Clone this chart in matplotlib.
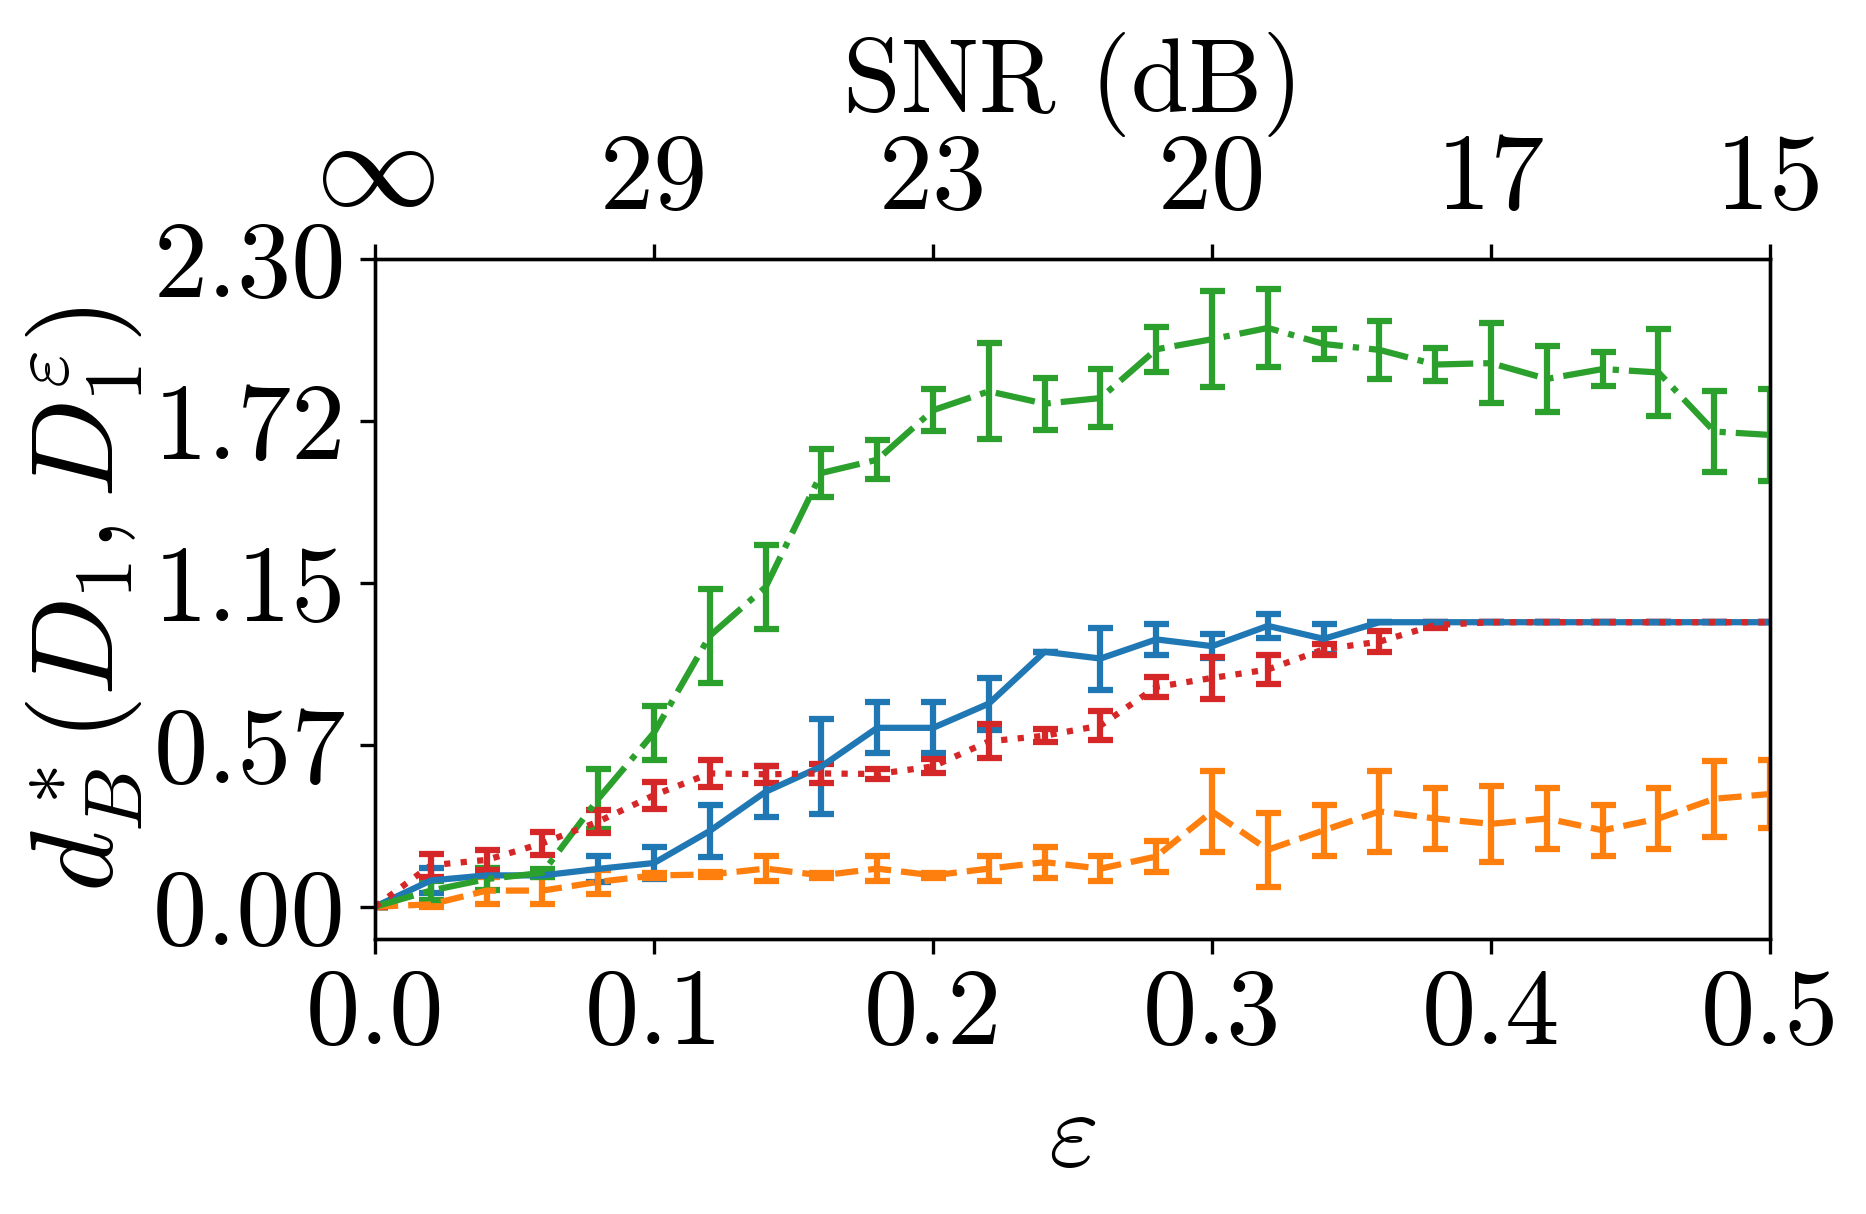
import numpy as np
import matplotlib
matplotlib.use("Agg")
import matplotlib.pyplot as plt

plt.rcParams['font.family'] = 'serif'
plt.rcParams['font.serif'] = ['cmr10', 'DejaVu Serif']
plt.rcParams['mathtext.fontset'] = 'cm'
plt.rcParams['axes.unicode_minus'] = False
plt.rcParams['axes.formatter.use_mathtext'] = True

eps = [0.00, 0.02, 0.04, 0.06, 0.08, 0.10, 0.12, 0.14, 0.16, 0.18, 0.20, 0.22, 0.24,
       0.26, 0.28, 0.30, 0.32, 0.34, 0.36, 0.38, 0.40, 0.42, 0.44, 0.46, 0.48, 0.50]

blue = [0, 0.093, 0.111, 0.111, 0.134, 0.155, 0.269, 0.408, 0.498, 0.635, 0.635, 0.721, 0.905,
        0.881, 0.949, 0.925, 0.997, 0.951, 1.01, 1.01, 1.01, 1.01, 1.01, 1.01, 1.01, 1.01]
blue_err = [0, 0.046, 0, 0, 0.045, 0.057, 0.091, 0.091, 0.17, 0.091, 0.091, 0.092, 0,
            0.11, 0.055, 0.043, 0.042, 0.053, 0, 0, 0, 0, 0, 0, 0, 0]

orange = [0, 0.008, 0.057, 0.057, 0.088, 0.111, 0.114, 0.135, 0.111, 0.135, 0.111, 0.135, 0.158,
          0.135, 0.178, 0.338, 0.202, 0.271, 0.338, 0.313, 0.294, 0.313, 0.271, 0.313, 0.383, 0.40]
orange_err = [0, 0.01, 0.049, 0.049, 0.043, 0.01, 0.01, 0.045, 0.01, 0.045, 0.01, 0.045, 0.055,
              0.045, 0.055, 0.144, 0.132, 0.091, 0.144, 0.11, 0.135, 0.11, 0.091, 0.11, 0.135, 0.12]

green = [0, 0.057, 0.098, 0.12, 0.383, 0.618, 0.962, 1.135, 1.54, 1.587, 1.763, 1.83, 1.786,
         1.806, 1.979, 2.015, 2.055, 1.998, 1.977, 1.925, 1.93, 1.874, 1.909, 1.897, 1.687, 1.675]
green_err = [0, 0.035, 0.04, 0.015, 0.106, 0.096, 0.167, 0.148, 0.086, 0.07, 0.075, 0.171, 0.092,
             0.104, 0.08, 0.17, 0.139, 0.055, 0.104, 0.059, 0.141, 0.116, 0.06, 0.155, 0.145, 0.163]

red = [0, 0.147, 0.166, 0.225, 0.302, 0.396, 0.473, 0.47, 0.473, 0.471, 0.498, 0.587, 0.607,
       0.643, 0.78, 0.812, 0.842, 0.914, 0.941, 1.0, 1.01, 1.01, 1.01, 1.01, 1.01, 1.01]
red_err = [0, 0.04, 0.035, 0.04, 0.04, 0.048, 0.049, 0.03, 0.033, 0.018, 0.025, 0.06, 0.024,
           0.05, 0.037, 0.073, 0.05, 0.02, 0.038, 0.01, 0, 0, 0, 0, 0, 0]

x_ticks = [0.0, 0.1, 0.2, 0.3, 0.4, 0.5]
x_ticklabels = ['0.0', '0.1', '0.2', '0.3', '0.4', '0.5']
snr_ticklabels = [r'$\infty$', '29', '23', '20', '17', '15']
y_ticks = [0.0, 0.575, 1.15, 1.725, 2.30]
y_ticklabels = ['0.00', '0.57', '1.15', '1.72', '2.30']

series = [
    (blue, blue_err, '#1f77b4', '-'),
    (orange, orange_err, '#ff7f0e', '--'),
    (green, green_err, '#2ca02c', '-.'),
    (red, red_err, '#d62728', ':'),
]

fig = plt.figure(figsize=(18.66 / 3, 12.14 / 3), dpi=300)
ax = fig.add_axes([0.2010, 0.2265, 0.9486 - 0.2010, 0.7867 - 0.2265])

for vals, errs, col, ls in series:
    ax.errorbar(eps, vals, yerr=errs, color=col, linestyle=ls, linewidth=1.5,
                elinewidth=1.5, capsize=3, capthick=1.5)

FS = 26
ax.set_xlim(0, 0.5)
ax.set_ylim(-0.115, 2.30)
ax.set_xticks(x_ticks)
ax.set_xticklabels(x_ticklabels, fontsize=FS)
ax.set_yticks(y_ticks)
ax.set_yticklabels(y_ticklabels, fontsize=FS)
ax.set_xlabel(r'$\varepsilon$', fontsize=FS, labelpad=6)
ax.set_ylabel(r'$d_B^*(D_1, D_1^\varepsilon)$', fontsize=28, labelpad=2)

ax2 = ax.twiny()
ax2.set_xlim(ax.get_xlim())
ax2.set_xticks(x_ticks)
ax2.set_xticklabels(snr_ticklabels, fontsize=FS)
ax2.get_xticklabels()[0].set_fontsize(30)
ax2.set_xlabel('SNR (dB)', fontsize=25, labelpad=2)

fig.savefig('out.png', dpi=300)
